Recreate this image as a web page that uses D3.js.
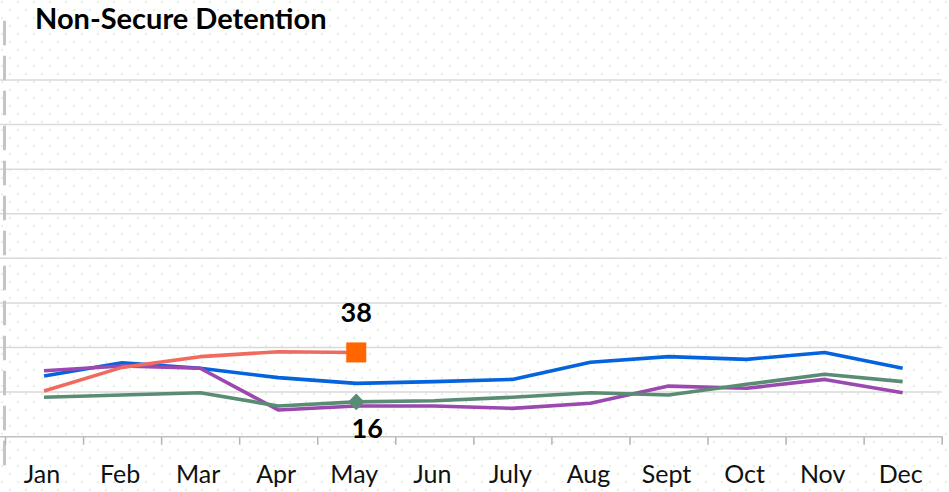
<!DOCTYPE html>
<html>
<head>
<meta charset="utf-8">
<script src="https://cdn.jsdelivr.net/npm/d3@7"></script>
<style>
	html, body { margin: 0; padding: 0; background: #fff; }
	svg { display: block; }
	.month { font-family: Lato, "Noto Sans", sans-serif; font-size: 25px; fill: #111; }
	.title { font-family: Lato, "Noto Sans", sans-serif; font-size: 29px; font-weight: bold; fill: #000; }
	.dlabel { font-family: Lato, "Noto Sans", sans-serif; font-size: 27px; font-weight: bold; fill: #000; }
</style>
</head>
<body>
<div id="chart"></div>
<script>
// chart data
var months = ["Jan", "Feb", "Mar", "Apr", "May", "Jun", "July", "Aug", "Sept", "Oct", "Nov", "Dec"];
var yTicks = [20, 40, 60, 80, 100, 120, 140, 160];

var blueSeries = [27.2, 33.2, 30.7, 26.5, 23.9, 24.7, 25.7, 33.4, 35.9, 34.7, 37.8, 30.7];
var purpleSeries = [29.6, 31.7, 30.7, 12.0, 13.8, 13.8, 12.7, 15.0, 22.7, 21.7, 25.7, 19.7];
var greenSeries = [17.7, 18.7, 19.7, 13.8, 15.6, 16.1, 17.7, 19.7, 18.7, 23.5, 28.0, 24.7];
var currentSeries = [20.5, 31.1, 35.9, 38.1, 37.8];

var width = 949,
	height = 492;

var svg = d3.select("#chart")
	.append("svg")
	.attr("width", width)
	.attr("height", height);

// dotted background
var defs = svg.append("defs");
var pat = defs.append("pattern")
	.attr("id", "dots")
	.attr("width", 16)
	.attr("height", 16)
	.attr("patternUnits", "userSpaceOnUse");
pat.append("circle").attr("cx", 2).attr("cy", 2).attr("r", 1.1).attr("fill", "#dcf2d4");
pat.append("circle").attr("cx", 10).attr("cy", 10).attr("r", 1.1).attr("fill", "#dcf2d4");

svg.append("rect")
	.attr("width", width)
	.attr("height", height)
	.attr("fill", "url(#dots)");

// scales
var x = d3.scaleBand()
	.domain(months)
	.range([5, 941.7]);

var xEdge = d3.scaleLinear()
	.domain([0, months.length])
	.range([5, 941.7]);

var y = d3.scaleLinear()
	.domain([0, 160])
	.range([436.7, 80]);

function cx(i) { return x(months[i]) + x.bandwidth() / 2; }

// gridlines
svg.append("g")
	.selectAll("line")
	.data(yTicks)
	.enter().append("line")
	.attr("x1", 0)
	.attr("x2", 941.7)
	.attr("y1", function(d) { return y(d); })
	.attr("y2", function(d) { return y(d); })
	.attr("stroke", "#d9d9d9")
	.attr("stroke-width", 1.5);

// left dashed border
svg.append("line")
	.attr("x1", 4.5)
	.attr("x2", 4.5)
	.attr("y1", 20.7)
	.attr("y2", 466)
	.attr("stroke", "#c4c4c4")
	.attr("stroke-width", 3)
	.attr("stroke-dasharray", "24.5,10.5");

// x axis: tick marks on category edges
var xAxis = svg.append("g")
	.attr("transform", "translate(0," + y(0) + ")")
	.call(d3.axisBottom(xEdge).ticks(months.length).tickSize(8).tickFormat(""));
xAxis.select(".domain").remove();
xAxis.selectAll(".tick line").attr("stroke", "#b3b3b3").attr("stroke-width", 1.5);

svg.append("line")
	.attr("x1", 0)
	.attr("x2", 942.5)
	.attr("y1", y(0))
	.attr("y2", y(0))
	.attr("stroke", "#bfbfbf")
	.attr("stroke-width", 1.5);

// month labels
svg.append("g")
	.selectAll("text")
	.data(months)
	.enter().append("text")
	.attr("class", "month")
	.attr("x", function(d) { return x(d) + x.bandwidth() / 2 - 2; })
	.attr("y", 483)
	.attr("text-anchor", "middle")
	.text(function(d) { return d; });

// lines
var line = d3.line()
	.x(function(d, i) { return cx(i); })
	.y(function(d) { return y(d); });

var series = [
	{ values: blueSeries, color: "#0563dd" },
	{ values: purpleSeries, color: "#9b48b0" },
	{ values: greenSeries, color: "#5a8c74" },
	{ values: currentSeries, color: "#f06a60" }
];

svg.append("g")
	.selectAll("path")
	.data(series)
	.enter().append("path")
	.attr("d", function(d) { return line(d.values); })
	.attr("fill", "none")
	.attr("stroke", function(d) { return d.color; })
	.attr("stroke-width", 3.6)
	.attr("stroke-linejoin", "round");

// markers at May
var mi = 4;
svg.append("rect")
	.attr("x", cx(mi) - 10)
	.attr("y", y(currentSeries[mi]) - 10)
	.attr("width", 20)
	.attr("height", 20)
	.attr("fill", "#ff6600");

svg.append("path")
	.attr("d", d3.symbol().type(d3.symbolSquare).size(138)())
	.attr("transform", "translate(" + cx(mi) + "," + y(greenSeries[mi]) + ") rotate(45)")
	.attr("fill", "#5a8c74");

// data labels
svg.append("text")
	.attr("class", "dlabel")
	.attr("x", cx(mi))
	.attr("y", y(currentSeries[mi]) - 30)
	.attr("text-anchor", "middle")
	.text(d3.format(".0f")(currentSeries[mi]));

svg.append("text")
	.attr("class", "dlabel")
	.attr("x", cx(mi) + 11)
	.attr("y", y(greenSeries[mi]) + 36)
	.attr("text-anchor", "middle")
	.text(d3.format(".0f")(greenSeries[mi]));

// title
svg.append("text")
	.attr("class", "title")
	.attr("x", 35)
	.attr("y", 29.3)
	.text("Non-Secure Detention");
</script>
</body>
</html>
